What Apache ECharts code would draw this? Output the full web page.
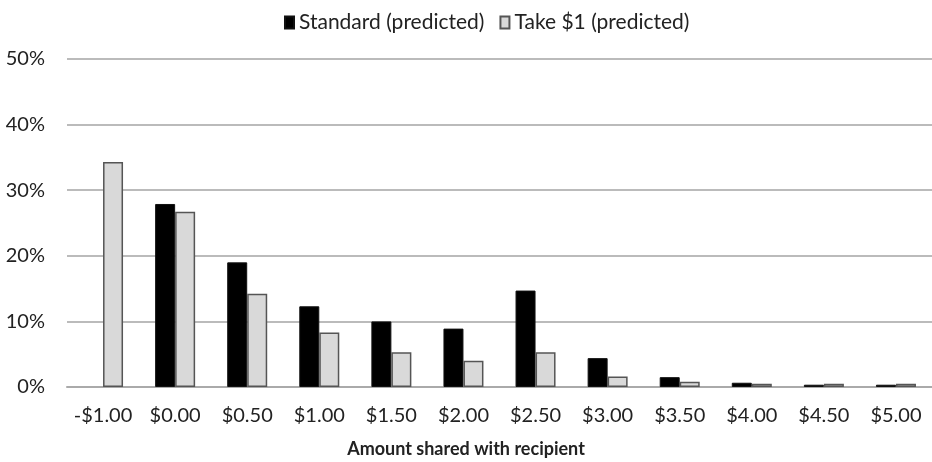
<!DOCTYPE html>
<html>
<head>
<meta charset="utf-8">
<script src="https://cdn.jsdelivr.net/npm/echarts@6/dist/echarts.min.js"></script>
<style>html,body{margin:0;padding:0;background:#fff}#c{width:932px;height:462px}</style>
</head>
<body>
<div id="c"></div>
<script>
const categories = ['-$1.00','$0.00','$0.50','$1.00','$1.50','$2.00','$2.50','$3.00','$3.50','$4.00','$4.50','$5.00'];
const standardPredicted = [null, 27.9, 19.0, 12.3, 10.0, 8.9, 14.7, 4.4, 1.5, 0.65, 0.35, 0.35];
const take1Predicted = [34.3, 26.7, 14.2, 8.3, 5.3, 4.0, 5.3, 1.6, 0.8, 0.5, 0.5, 0.5];
const yTicks = [0, 10, 20, 30, 40, 50];
const xTitle = 'Amount shared with recipient';

const font = 'Lato, "Open Sans", sans-serif';
const chart = echarts.init(document.getElementById('c'), null, {renderer: 'canvas'});
chart.setOption({
  animation: false,
  title: {
    text: xTitle, left: 'center', top: 435,
    textStyle: {fontFamily: font, fontSize: 18, fontWeight: 'bold', color: '#222'}
  },
  legend: {
    top: 7, left: 279,
    icon: 'rect',
    itemWidth: 9, itemHeight: 12, itemGap: 15,
    textStyle: {fontFamily: font, fontSize: 21, color: '#222'},
    data: ['Standard (predicted)', 'Take $1 (predicted)']
  },
  grid: {left: 67, right: 0, top: 59, bottom: 75, containLabel: false},
  xAxis: {
    type: 'category',
    data: categories,
    axisLine: {lineStyle: {color: '#aaa', width: 2}},
    axisTick: {show: false},
    axisLabel: {fontFamily: font, fontSize: 20, color: '#222', margin: 19, interval: 0}
  },
  yAxis: {
    type: 'value',
    min: yTicks[0], max: yTicks[yTicks.length - 1], interval: 10,
    axisLabel: {fontFamily: font, fontSize: 20, color: '#222', formatter: '{value}%', margin: 22},
    splitLine: {lineStyle: {color: '#bbb', width: 2}},
    axisLine: {show: false},
    axisTick: {show: false}
  },
  series: [
    {
      name: 'Standard (predicted)', type: 'bar', data: standardPredicted,
      barWidth: 20, barGap: '0%',
      itemStyle: {color: '#000', borderColor: '#111', borderWidth: 1}
    },
    {
      name: 'Take $1 (predicted)', type: 'bar', data: take1Predicted,
      barWidth: 20, barGap: '0%',
      itemStyle: {color: '#d9d9d9', borderColor: '#555', borderWidth: 1.5}
    }
  ]
});
</script>
</body>
</html>
